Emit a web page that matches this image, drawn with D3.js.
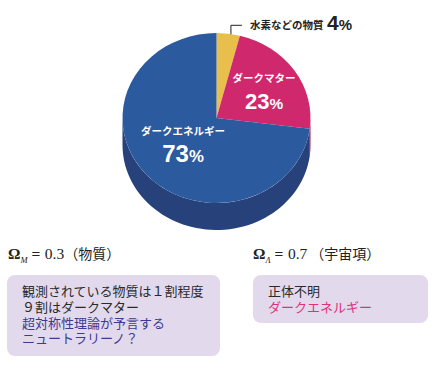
<!DOCTYPE html>
<html><head><meta charset="utf-8">
<script src="https://cdn.jsdelivr.net/npm/d3@7"></script>
<style>
body{margin:0;background:#fff;}
svg{display:block;}
.jp{font-family:"Noto Sans CJK JP","Noto Sans",sans-serif;}
.note{font-family:"Liberation Sans","Noto Sans CJK JP",sans-serif;}
</style></head>
<body>
<div id="chart"></div>
<script>
const categories = ["水素などの物質", "ダークマター", "ダークエネルギー"];
const values = [4, 23, 73];
const labels = ["4%", "23%", "73%"];
const colors = ["#E8BF4A", "#D0286D", "#2B5A9E"];
const sideColors = ["#B8942E", "#9E1E52", "#27417A"];
const leftNotes = [["観測されている物質は１割程度", "#2a2a2a"], ["９割はダークマター", "#2a2a2a"], ["超対称性理論が予言する", "#3C3A92"], ["ニュートラリーノ？", "#3C3A92"]];
const rightNotes = [["正体不明", "#2a2a2a"], ["ダークエネルギー", "#E0307A"]];

const W = 435, H = 370;
const svg = d3.select("#chart").append("svg").attr("width", W).attr("height", H);

const cx = 216.5, cy = 118, rx = 94, ry = 85, depth = 27;
const pie = d3.pie().sort(null).value(d => d)(values);

// point on ellipse for d3 angle (0 = top, clockwise)
const P = (a, dy = 0) => [cx + rx * Math.sin(a), cy - ry * Math.cos(a) + dy];

// side walls (front visible from PI/2 to 3PI/2)
pie.forEach((s, i) => {
  const a0 = Math.max(s.startAngle, Math.PI / 2), a1 = Math.min(s.endAngle, 3 * Math.PI / 2);
  if (a1 <= a0) return;
  const n = 60;
  const top = d3.range(n + 1).map(k => P(a0 + (a1 - a0) * k / n));
  const bot = top.slice().reverse().map(p => [p[0], p[1] + depth]);
  svg.append("path").attr("d", d3.line()(top.concat(bot)) + "Z").attr("fill", sideColors[i]);
});

// top face
const arc = d3.arc().innerRadius(0).outerRadius(rx);
const g = svg.append("g").attr("transform", `translate(${cx},${cy}) scale(1,${ry / rx})`);
g.selectAll("path").data(pie).join("path").attr("d", arc).attr("fill", (d, i) => colors[i]);

// leader line for small slice
const lp = P((pie[0].startAngle + pie[0].endAngle) / 2 + 0.05);
svg.append("path").attr("d", `M${lp[0] - 2},${lp[1]}L${lp[0] - 2},${lp[1] - 9}L${lp[0] + 9},${lp[1] - 9}`)
  .attr("fill", "none").attr("stroke", "#222").attr("stroke-width", 1);
svg.append("text").attr("class", "jp").attr("x", 250).attr("y", 29).attr("font-size", 10.5)
  .attr("font-weight", 700).attr("fill", "#222").text(categories[0]);
svg.append("text").attr("x", 327).attr("y", 30).attr("font-size", 21).attr("font-family", "Liberation Sans, Arial, sans-serif")
  .attr("font-weight", 700).attr("fill", "#222").call(t => {
    t.append("tspan").text(labels[0].slice(0, -1));
    t.append("tspan").attr("font-size", 15).text("%");
  });

// in-slice labels
const inLabel = (i, x, y, fs) => {
  svg.append("text").attr("class", "jp").attr("x", x).attr("y", y).attr("text-anchor", "middle")
    .attr("font-size", 10.5).attr("font-weight", 700).attr("fill", "#fff").text(categories[i]);
  svg.append("text").attr("x", x).attr("y", y + 27).attr("text-anchor", "middle")
    .attr("font-family", "Liberation Sans, Arial, sans-serif").attr("font-size", fs).attr("font-weight", 700)
    .attr("fill", "#fff").call(t => {
      t.append("tspan").text(labels[i].slice(0, -1));
      t.append("tspan").attr("font-size", fs * 0.7).text("%");
    });
};
inLabel(1, 264, 82, 22);
inLabel(2, 183, 135, 24);

// bottom section
const omega = (x, sub, num, jp, gap) => {
  const t = svg.append("text").attr("x", x).attr("y", 259).attr("fill", "#222")
    .attr("font-family", "Liberation Serif, DejaVu Serif, serif").attr("font-size", 15.5);
  t.append("tspan").attr("font-weight", 700).text("Ω");
  t.append("tspan").attr("font-size", 8.5).attr("dy", 3.5).attr("font-style", "italic").text(sub);
  t.append("tspan").attr("dy", -3.5).attr("font-weight", 700).attr("dx", 4).text("=");
  t.append("tspan").attr("dx", 4.5).text(num);
  t.append("tspan").attr("dx", gap).attr("font-family", "Noto Sans CJK JP").attr("font-size", 14).text(jp);
};
omega(8, "M", "0.3", "（物質）", 0);
omega(253, "Λ", "0.7", "（宇宙項）", 3);

const boxes = [
  {x: 7, y: 275, w: 213, h: 81, lines: leftNotes},
  {x: 253, y: 275, w: 175, h: 48, lines: rightNotes}
];
boxes.forEach(b => {
  svg.append("rect").attr("x", b.x).attr("y", b.y).attr("width", b.w).attr("height", b.h)
    .attr("rx", 8).attr("fill", "#E2D9EC");
  b.lines.forEach((l, k) => {
    svg.append("text").attr("class", "note").attr("font-size", 13)
      .attr("x", b.x + 15).attr("y", b.y + 21 + k * 15.8).attr("fill", l[1]).text(l[0]);
  });
});
</script>
</body></html>
